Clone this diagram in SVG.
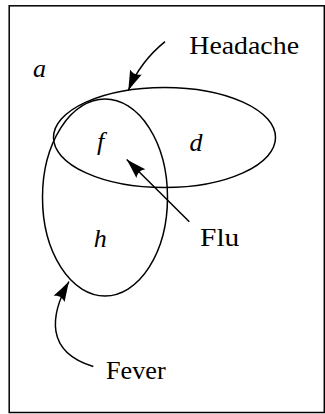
<svg xmlns="http://www.w3.org/2000/svg" width="325" height="414" viewBox="0 0 325 414">
<style>
.ln{fill:none;stroke:#000;stroke-width:1.5}
.lbl{font-family:"Liberation Serif","DejaVu Serif",serif;font-size:26px;fill:#000}
.var{font-family:"Liberation Serif","DejaVu Serif",serif;font-size:26px;font-style:italic;fill:#000}
</style>
<defs>
<marker id="ah" viewBox="-20 -7 21 14" refX="0" refY="0" markerWidth="21" markerHeight="14" markerUnits="userSpaceOnUse" orient="auto">
<path d="M0,0 C-6,-1.8 -13,-4 -20,-6.3 C-17,-2 -17,2 -20,6.3 C-13,4 -6,1.8 0,0 Z" fill="#000"/>
</marker>
</defs>
<rect x="9.2" y="5.8" width="315.1" height="406.7" fill="none" stroke="#000" stroke-width="1.5"/>
<g id="headache">
<ellipse class="ln" cx="164.5" cy="137.5" rx="111" ry="50"/>
</g>
<g id="fever">
<ellipse class="ln" cx="105" cy="197.5" rx="62.5" ry="98.5"/>
</g>
<g id="regions">
<text class="var" x="39.5" y="77" text-anchor="middle">a</text>
<text class="var" x="100.5" y="150" text-anchor="middle">f</text>
<text class="var" x="196" y="151" text-anchor="middle">d</text>
<text class="var" x="100.3" y="246.5" text-anchor="middle">h</text>
</g>
<g id="labels">
<text class="lbl" x="189.3" y="54" textLength="109.7" lengthAdjust="spacingAndGlyphs">Headache</text>
<text class="lbl" x="200" y="246" textLength="39.3" lengthAdjust="spacingAndGlyphs">Flu</text>
<text class="lbl" x="106" y="379" textLength="59.7" lengthAdjust="spacingAndGlyphs">Fever</text>
</g>
<g id="connectors">
<path class="ln" d="M165,41.7 Q140,62 128.3,90.5" marker-end="url(#ah)"/>
<path class="ln" d="M189.3,221.7 L126.7,159.5" marker-end="url(#ah)"/>
<path class="ln" d="M93.3,366.5 C45,352 50,315 69,281.5" marker-end="url(#ah)"/>
</g>
</svg>
